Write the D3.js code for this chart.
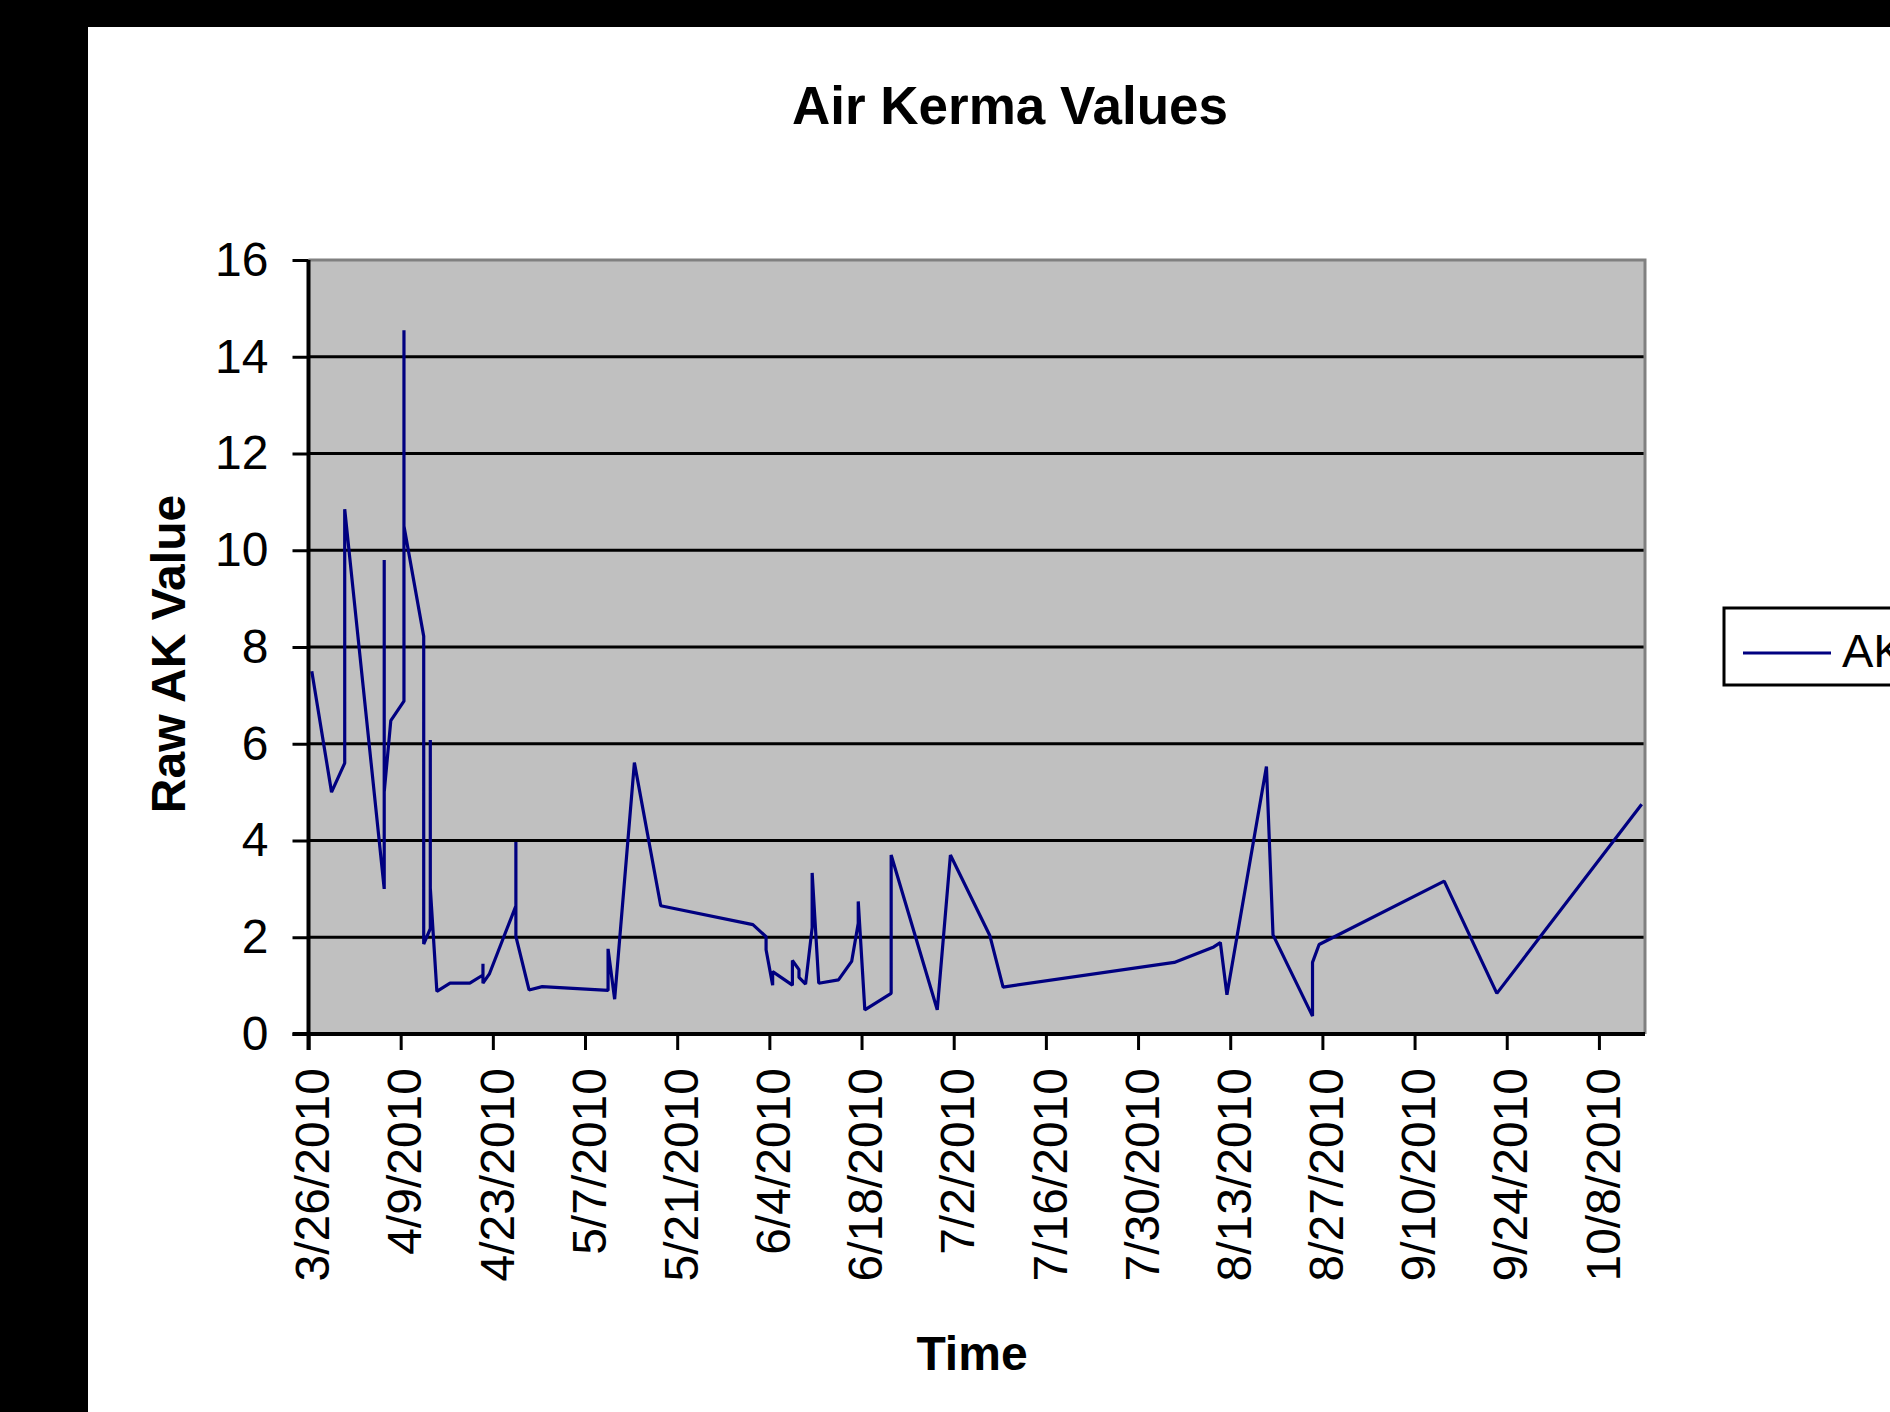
<!DOCTYPE html>
<html>
<head>
<meta charset="utf-8">
<script src="https://cdn.jsdelivr.net/npm/d3@7"></script>
<style>
  html, body { margin: 0; padding: 0; background: #000; }
  svg { display: block; }
  text { font-family: "Liberation Sans", Arial, sans-serif; }
</style>
</head>
<body>
<svg id="chart" width="1890" height="1412"></svg>
<script>
// ---- data ----
const dates = [
  "3/26/2010","3/29/2010","3/31/2010","3/31/2010","4/6/2010","4/6/2010","4/6/2010","4/7/2010",
  "4/9/2010","4/9/2010","4/9/2010","4/12/2010","4/12/2010","4/13/2010","4/13/2010","4/13/2010",
  "4/14/2010","4/16/2010","4/19/2010","4/21/2010","4/21/2010","4/21/2010","4/22/2010",
  "4/26/2010","4/26/2010","4/26/2010","4/28/2010","4/30/2010","5/10/2010","5/10/2010","5/11/2010",
  "5/14/2010","5/18/2010","6/1/2010","6/3/2010","6/3/2010","6/4/2010","6/4/2010","6/7/2010",
  "6/7/2010","6/8/2010","6/8/2010","6/9/2010","6/10/2010","6/10/2010","6/11/2010","6/14/2010",
  "6/16/2010","6/17/2010","6/17/2010","6/18/2010","6/22/2010","6/22/2010","6/29/2010","7/1/2010",
  "7/7/2010","7/9/2010","8/4/2010","8/10/2010","8/11/2010","8/12/2010","8/18/2010","8/19/2010",
  "8/25/2010","8/25/2010","8/26/2010","9/14/2010","9/22/2010","10/14/2010"
];
const values = [
  7.5, 5.0, 5.6, 10.85, 3.0, 9.8, 5.0, 6.48,
  6.88, 14.55, 10.5, 8.22, 1.86, 2.18, 6.08, 3.02,
  0.88, 1.05, 1.05, 1.22, 1.45, 1.05, 1.25,
  2.65, 3.97, 2.02, 0.91, 0.98, 0.9, 1.76, 0.72,
  5.61, 2.65, 2.26, 2.01, 1.74, 1.01, 1.29, 1.01,
  1.52, 1.33, 1.17, 1.03, 2.2, 3.33, 1.05, 1.12,
  1.5, 2.29, 2.74, 0.5, 0.84, 3.7, 0.5, 3.7,
  2.03, 0.97, 1.48, 1.8, 1.89, 0.81, 5.53, 2.05,
  0.37, 1.48, 1.85, 3.16, 0.84, 4.75
];
const yTicks = [0, 2, 4, 6, 8, 10, 12, 14, 16];
const xTickLabels = ["3/26/2010","4/9/2010","4/23/2010","5/7/2010","5/21/2010","6/4/2010","6/18/2010",
  "7/2/2010","7/16/2010","7/30/2010","8/13/2010","8/27/2010","9/10/2010","9/24/2010","10/8/2010"];
const seriesName = "AK Value";
const chartTitle = "Air Kerma Values";
const xTitle = "Time";
const yTitle = "Raw AK Value";

// ---- layout ----
const svg = d3.select("#chart");
const W = 1890, H = 1412;
const plot = { left: 308.5, right: 1645, top: 260, bottom: 1034 };

const parse = d3.utcParse("%m/%d/%Y");
const data = dates.map((d, i) => ({ date: parse(d), v: values[i] }));
const tickDates = xTickLabels.map(parse);

const x = d3.scaleUtc()
  .domain([data[0].date, d3.utcDay.offset(data[data.length - 1].date, 1)])
  .range([plot.left, plot.right]);
const y = d3.scaleLinear().domain([0, 16]).range([plot.bottom, plot.top]);

// backgrounds
svg.append("rect").attr("x", 0).attr("y", 0).attr("width", W).attr("height", H).attr("fill", "#000");
svg.append("rect").attr("x", 88).attr("y", 27).attr("width", W - 88).attr("height", H - 27).attr("fill", "#fff");
svg.append("rect")
  .attr("x", plot.left).attr("y", plot.top)
  .attr("width", plot.right - plot.left).attr("height", plot.bottom - plot.top)
  .attr("fill", "#C0C0C0");

// gridlines
svg.append("g").selectAll("line")
  .data(yTicks.filter(t => t > 0 && t < 16))
  .join("line")
  .attr("x1", plot.left).attr("x2", plot.right)
  .attr("y1", d => y(d)).attr("y2", d => y(d))
  .attr("stroke", "#000").attr("stroke-width", 3);

// plot border top/right (grey)
svg.append("path")
  .attr("d", `M${plot.left},${plot.top}H${plot.right}V${plot.bottom}`)
  .attr("fill", "none").attr("stroke", "#808080").attr("stroke-width", 3);

// data line
const line = d3.line()
  .x(d => x(d3.utcHour.offset(d.date, 12)))
  .y(d => y(d.v));
svg.append("path")
  .datum(data)
  .attr("d", line)
  .attr("fill", "none")
  .attr("stroke", "#000080")
  .attr("stroke-width", 3.2)
  .attr("stroke-linejoin", "bevel");

// y axis
const yAxis = svg.append("g")
  .attr("transform", `translate(${plot.left},0)`)
  .call(d3.axisLeft(y).tickValues(yTicks).tickSize(16).tickPadding(24).tickFormat(d3.format("d")));
yAxis.select(".domain").attr("stroke", "#000").attr("stroke-width", 4)
  .attr("d", `M0,${plot.top}V${plot.bottom + 16}`);
yAxis.selectAll(".tick line").attr("stroke", "#000").attr("stroke-width", 3);
yAxis.selectAll(".tick text")
  .attr("font-size", 48).attr("fill", "#000")
  .attr("font-family", '"Liberation Sans", Arial, sans-serif');

// x axis
const xAxis = svg.append("g")
  .attr("transform", `translate(0,${plot.bottom})`)
  .call(d3.axisBottom(x).tickValues(tickDates).tickSize(16).tickFormat((d, i) => xTickLabels[i]));
xAxis.select(".domain").attr("stroke", "#000").attr("stroke-width", 4)
  .attr("d", `M${plot.left - 16},0H${plot.right}`);
xAxis.selectAll(".tick line").attr("stroke", "#000").attr("stroke-width", 3);
xAxis.selectAll(".tick text")
  .attr("font-size", 48).attr("fill", "#000")
  .attr("font-family", '"Liberation Sans", Arial, sans-serif')
  .attr("text-anchor", "end")
  .attr("transform", "translate(0,34) rotate(-90)")
  .attr("x", 0).attr("y", 0).attr("dy", "0.42em");

// titles
svg.append("text")
  .attr("x", 1010).attr("y", 124)
  .attr("text-anchor", "middle")
  .attr("font-size", 53).attr("font-weight", "bold")
  .text(chartTitle);

svg.append("text")
  .attr("x", 972).attr("y", 1370)
  .attr("text-anchor", "middle")
  .attr("font-size", 48).attr("font-weight", "bold")
  .text(xTitle);

svg.append("text")
  .attr("transform", "translate(185,654) rotate(-90)")
  .attr("text-anchor", "middle")
  .attr("font-size", 48).attr("font-weight", "bold")
  .text(yTitle);

// legend
const lg = svg.append("g");
lg.append("rect")
  .attr("x", 1724).attr("y", 608).attr("width", 240).attr("height", 77)
  .attr("fill", "#fff").attr("stroke", "#000").attr("stroke-width", 3);
lg.append("line")
  .attr("x1", 1743).attr("x2", 1831).attr("y1", 653).attr("y2", 653)
  .attr("stroke", "#000080").attr("stroke-width", 3.2);
lg.append("text")
  .attr("x", 1842).attr("y", 667)
  .attr("font-size", 47)
  .text(seriesName);
</script>
</body>
</html>
